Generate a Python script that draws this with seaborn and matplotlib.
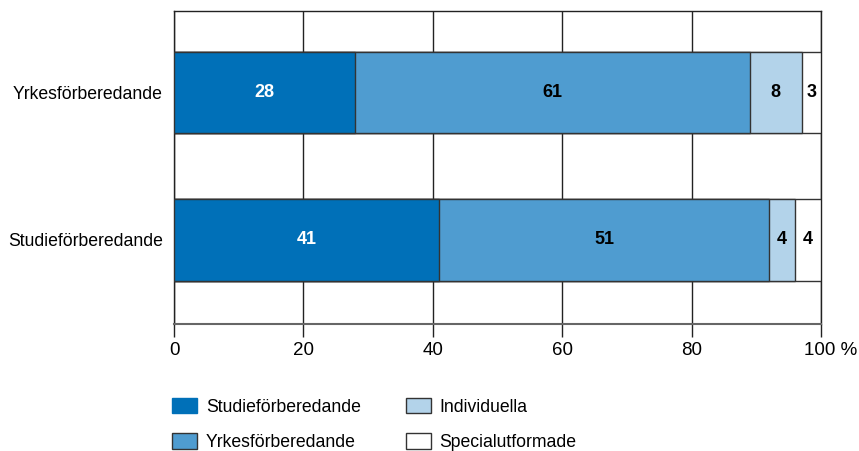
import matplotlib
matplotlib.use("Agg")
import matplotlib.pyplot as plt
import matplotlib.transforms as mtransforms
import seaborn as sns
import pandas as pd
import numpy as np
from matplotlib.patches import Patch

categories = ["Yrkesförberedande", "Studieförberedande"]
series_names = ["Studieförberedande", "Yrkesförberedande", "Individuella", "Specialutformade"]
studie = [28, 41]
yrkes = [61, 51]
individuella = [8, 4]
special = [3, 4]
colors = ["#0070B8", "#4F9CD0", "#B3D3EA", "#FFFFFF"]
label_colors = ["white", "black", "black", "black"]
xticks = [0, 20, 40, 60, 80, 100]
xticklabels = ["0", "20", "40", "60", "80", "100 %"]

sns.set_theme(style="white")
FAM = ["Liberation Sans", "DejaVu Sans"]
plt.rcParams["font.family"] = FAM
plt.rcParams["text.color"] = "black"
plt.rcParams["xtick.color"] = "black"
plt.rcParams["ytick.color"] = "black"

fig = plt.figure(figsize=(8.59, 4.51), dpi=100)
ax = fig.add_axes([174/859, 1-324/451, (821-174)/859, (324-11)/451])

series = [studie, yrkes, individuella, special]
cum = np.cumsum(np.array(series), axis=0)

for i in reversed(range(len(series))):
    df = pd.DataFrame({"cat": categories, "val": cum[i]})
    sns.barplot(data=df, y="cat", x="val", orient="h", color=colors[i],
                saturation=1, width=0.55, edgecolor="#333333", linewidth=1,
                ax=ax, zorder=3)

for i, s in enumerate(series):
    for j, v in enumerate(s):
        ax.text(cum[i][j] - v/2, j, str(v), ha="center", va="center",
                color=label_colors[i], fontsize=13, fontweight="bold", zorder=5)

ax.set_xlim(0, 100)
ax.set_ylim(1.57, -0.553)
ax.set_xticks(xticks)
ax.set_xticklabels(xticklabels, fontsize=13.5)
ax.tick_params(axis="x", length=9, width=1, color="#222222", direction="out", pad=4, bottom=True)
ax.tick_params(axis="y", length=0, labelsize=12.7, pad=8)
ax.set_xlabel("")
ax.set_ylabel("")
ax.grid(axis="x", color="#222222", linewidth=1, zorder=0)
ax.set_axisbelow(True)
for sp in ["top", "left", "right"]:
    ax.spines[sp].set_color("#222222")
    ax.spines[sp].set_linewidth(1)
ax.spines["bottom"].set_color("#666666")
ax.spines["bottom"].set_linewidth(1.5)

# shift "100 %" so the number sits centred on its tick
last = ax.get_xticklabels()[-1]
last.set_transform(last.get_transform() + mtransforms.ScaledTranslation(10/100, 0, fig.dpi_scale_trans))

handles = [Patch(facecolor=c, edgecolor="#333333" if c != "#0070B8" else c, linewidth=1) for c in colors]
fig.legend(handles, series_names, loc="upper left", bbox_to_anchor=(172/859, 1-398/451),
           ncol=2, frameon=False, prop={"family": FAM, "size": 12.7},
           handlelength=1.42, handleheight=0.97, borderpad=0,
           columnspacing=2.55, labelspacing=1.0, handletextpad=0.5, borderaxespad=0)

fig.savefig("out.png", dpi=100)
